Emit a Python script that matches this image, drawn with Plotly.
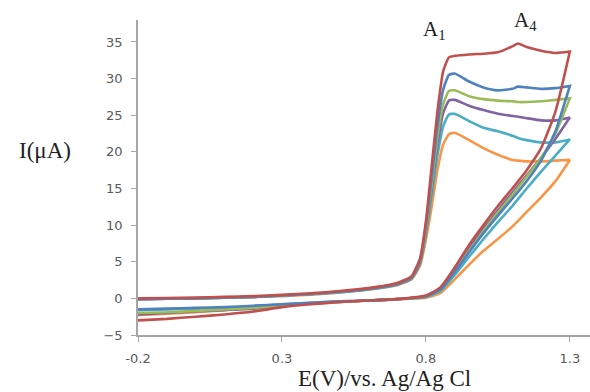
import plotly.graph_objects as go

# Potential grids (V vs Ag/AgCl)
E_forward = [-0.2, -0.1, 0.0, 0.1, 0.2, 0.3, 0.4, 0.5, 0.6, 0.7, 0.8, 0.85, 0.9, 0.95,
             1.0, 1.05, 1.1, 1.15, 1.2, 1.25, 1.3]
E_reverse = [1.3, 1.25, 1.2, 1.15, 1.12, 1.1, 1.05, 1.0, 0.95, 0.9, 0.88, 0.86, 0.84, 0.82,
             0.8, 0.78, 0.75, 0.7, 0.6, 0.5, 0.4, 0.3, 0.2, 0.1, 0.0, -0.1, -0.2]

# Currents (µA) for each curve
red_fwd = [-3.0, -2.8, -2.5, -2.2, -1.8, -1.2, -0.8, -0.5, -0.3, -0.1, 0.4, 1.5, 4.2, 7.3,
           10.0, 12.6, 15.0, 17.5, 20.5, 25.5, 33.7]
red_rev = [33.7, 33.5, 33.8, 34.3, 34.8, 34.4, 33.6, 33.4, 33.3, 33.1, 32.9, 31.0, 25.5, 18.0,
           10.5, 5.5, 3.0, 2.1, 1.4, 1.0, 0.7, 0.5, 0.3, 0.2, 0.1, 0.05, 0.0]

blue_fwd = [-1.5, -1.4, -1.3, -1.2, -1.0, -0.8, -0.6, -0.4, -0.3, -0.1, 0.3, 1.2, 3.6, 6.3,
            8.9, 11.3, 13.6, 16.0, 18.8, 22.8, 29.0]
blue_rev = [29.0, 28.7, 28.6, 28.8, 28.9, 28.6, 28.4, 28.8, 29.6, 30.7, 30.5, 28.5, 23.5, 16.5,
            10.0, 5.3, 2.9, 2.0, 1.3, 0.9, 0.6, 0.4, 0.2, 0.1, 0.0, -0.05, -0.1]

green_fwd = [-2.0, -1.9, -1.7, -1.5, -1.3, -1.0, -0.7, -0.5, -0.3, -0.1, 0.3, 1.2, 3.7, 6.5,
             9.2, 11.7, 14.1, 16.6, 19.2, 22.5, 27.3]
green_rev = [27.3, 27.1, 26.9, 26.8, 26.8, 26.9, 27.0, 27.2, 27.6, 28.4, 28.3, 26.5, 22.0, 15.5,
             9.5, 5.2, 2.9, 2.0, 1.3, 0.9, 0.6, 0.4, 0.2, 0.1, 0.0, -0.05, -0.1]

purple_fwd = [-2.2, -2.0, -1.8, -1.6, -1.4, -1.0, -0.7, -0.5, -0.3, -0.1, 0.3, 1.3, 3.9, 6.8,
              9.5, 12.0, 14.4, 16.8, 19.2, 21.8, 24.7]
purple_rev = [24.7, 24.3, 24.3, 24.6, 24.8, 24.9, 25.2, 25.7, 26.3, 27.1, 27.0, 25.3, 21.0, 15.0,
              9.2, 5.0, 2.8, 1.9, 1.3, 0.9, 0.6, 0.4, 0.2, 0.1, 0.0, -0.05, -0.1]

cyan_fwd = [-1.6, -1.5, -1.4, -1.3, -1.1, -0.8, -0.6, -0.4, -0.3, -0.1, 0.2, 1.0, 3.2, 5.7,
            8.1, 10.4, 12.6, 15.0, 17.3, 19.5, 21.7]
cyan_rev = [21.7, 21.3, 21.3, 21.6, 21.9, 22.2, 22.8, 23.3, 24.2, 25.2, 25.1, 23.5, 19.5, 14.0,
            8.8, 4.8, 2.7, 1.9, 1.2, 0.8, 0.6, 0.4, 0.2, 0.1, 0.0, -0.05, -0.1]

orange_fwd = [-2.3, -2.1, -1.9, -1.6, -1.3, -1.0, -0.7, -0.5, -0.3, -0.1, 0.1, 0.7, 2.6, 4.6,
              6.5, 8.1, 9.8, 11.8, 13.8, 16.0, 18.9]
orange_rev = [18.9, 18.8, 18.7, 18.7, 18.8, 18.9, 19.6, 20.5, 21.6, 22.6, 22.4, 21.0, 17.5, 12.5,
              8.0, 4.5, 2.6, 1.8, 1.2, 0.8, 0.5, 0.3, 0.2, 0.1, 0.0, 0.0, 0.0]

series = [
    ("orange", orange_fwd, orange_rev, "#F79646"),
    ("cyan", cyan_fwd, cyan_rev, "#4BACC6"),
    ("purple", purple_fwd, purple_rev, "#8064A2"),
    ("green", green_fwd, green_rev, "#9BBB59"),
    ("blue", blue_fwd, blue_rev, "#4F81BD"),
    ("red", red_fwd, red_rev, "#C0504D"),
]

x_ticks = [-0.2, 0.3, 0.8, 1.3]
x_tick_labels = ["-0.2", "0.3", "0.8", "1.3"]
y_ticks = [-5, 0, 5, 10, 15, 20, 25, 30, 35]

fig = go.Figure()
for name, fwd, rev, color in series:
    fig.add_trace(go.Scatter(
        x=E_forward + E_reverse, y=fwd + rev, mode="lines", name=name,
        line=dict(color=color, width=2.6, shape="spline", smoothing=0.5),
        showlegend=False, hoverinfo="skip"))

axis_color = "#A6A6A6"
tick_font = dict(family="DejaVu Sans", size=13, color="#595959")

fig.update_layout(
    width=590, height=392,
    margin=dict(l=138, r=0, t=20, b=57),
    paper_bgcolor="white", plot_bgcolor="white",
    xaxis=dict(range=[-0.2, 1.37], tickvals=x_ticks, ticktext=x_tick_labels,
               showgrid=False, zeroline=False, showline=True, linecolor=axis_color, linewidth=1.5,
               ticks="outside", ticklen=5, tickcolor=axis_color, tickfont=tick_font,
               ticklabelstandoff=6),
    yaxis=dict(range=[-5, 38], tickvals=y_ticks, showgrid=False, zeroline=False,
               showline=True, linecolor=axis_color, linewidth=1.5,
               ticks="outside", ticklen=5, tickcolor=axis_color, tickfont=tick_font,
               ticklabelstandoff=6),
    annotations=[
        dict(text="I(μA)", xref="paper", yref="paper", x=-0.205, y=0.587, showarrow=False,
             xanchor="center", yanchor="middle",
             font=dict(family="Liberation Serif", size=23, color="#222222")),
        dict(text="E(V)/vs. Ag/Ag Cl", xref="paper", yref="paper", x=0.546, y=-0.138,
             showarrow=False, xanchor="center", yanchor="middle",
             font=dict(family="Liberation Serif", size=23, color="#222222")),
        dict(text="A<sub>1</sub>", xref="x", yref="y", x=0.83, y=36.6, showarrow=False,
             xanchor="center", yanchor="middle",
             font=dict(family="Liberation Serif", size=21, color="#222222")),
        dict(text="A<sub>4</sub>", xref="x", yref="y", x=1.145, y=37.9, showarrow=False,
             xanchor="center", yanchor="middle",
             font=dict(family="Liberation Serif", size=21, color="#222222")),
    ],
)

fig.write_html("out.html")
